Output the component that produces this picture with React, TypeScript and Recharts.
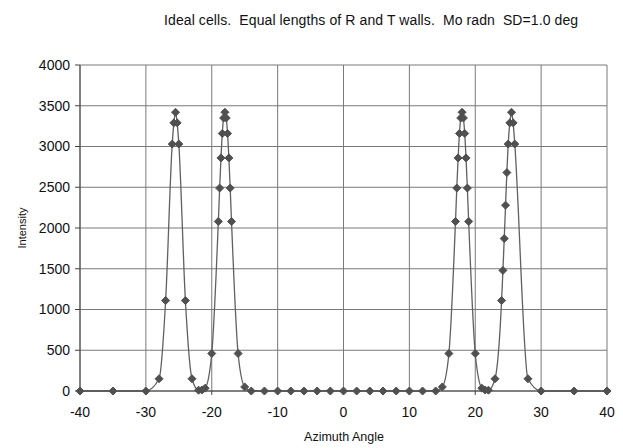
import { CartesianGrid, Line, LineChart, XAxis, YAxis } from 'recharts';

const angles = [
  -40, -35, -30, -28, -27, -26, -25.75, -25.5, -25.25, -25, -24, -23, -22, -21.5, -21,
  -20, -19, -18.8, -18.6, -18.4, -18.2, -18, -17.8, -17.6, -17.4, -17.2, -17, -16, -15,
  -14, -12, -10, -8, -6, -4, -2, 0, 2, 4, 6, 8, 10, 12, 14,
  15, 16, 17, 17.2, 17.4, 17.6, 17.8, 18, 18.2, 18.4, 18.6, 18.8, 19, 20, 21, 21.5, 22,
  23, 24, 24.2, 24.4, 24.6, 24.8, 25, 25.25, 25.5, 25.75, 26, 28, 30, 35, 40,
];

const intensity = [
  0, 0, 0, 150, 1110, 3030, 3290, 3420, 3290, 3030, 1110, 150, 10, 12, 35,
  460, 2080, 2490, 2860, 3160, 3350, 3420, 3350, 3160, 2860, 2490, 2080, 460, 50,
  0, 0, 0, 0, 0, 0, 0, 0, 0, 0, 0, 0, 0, 0, 0,
  50, 460, 2080, 2490, 2860, 3160, 3350, 3420, 3350, 3160, 2860, 2490, 2080, 460, 35, 12, 10,
  150, 1110, 1480, 1870, 2280, 2680, 3030, 3290, 3420, 3290, 3030, 150, 0, 0, 0,
];

const xTicks = [-40, -30, -20, -10, 0, 10, 20, 30, 40];
const yTicks = [0, 500, 1000, 1500, 2000, 2500, 3000, 3500, 4000];

const data = angles.map((a, i) => ({ angle: a, intensity: intensity[i] }));

const FONT = '"Liberation Sans", Arial, sans-serif';

const Diamond = (props: any) => {
  const { cx, cy, index } = props;
  if (cx == null || cy == null) return <g key={`d-${index}`} />;
  const r = 4;
  return (
    <polygon
      key={`d-${index}`}
      points={`${cx},${cy - r} ${cx + r},${cy} ${cx},${cy + r} ${cx - r},${cy}`}
      fill="#505050"
      stroke="#505050"
    />
  );
};

export default function App() {
  return (
    <div style={{ position: 'absolute', left: 0, top: 0, width: 623, height: 448, background: '#fff', fontFamily: FONT }}>
      <div style={{ position: 'absolute', left: 164, top: 12, fontSize: 14, letterSpacing: 0.1, color: '#111', whiteSpace: 'pre' }}>
        {'Ideal cells.  Equal lengths of R and T walls.  Mo radn  SD=1.0 deg'}
      </div>
      <div
        style={{
          position: 'absolute', left: 22, top: 228, fontSize: 11, color: '#111',
          transform: 'translate(-50%, -50%) rotate(-90deg)', whiteSpace: 'nowrap',
        }}
      >
        Intensity
      </div>
      <div style={{ position: 'absolute', left: 344, top: 437, fontSize: 12.5, color: '#111', transform: 'translate(-50%, -50%)', whiteSpace: 'nowrap' }}>
        Azimuth Angle
      </div>
      <LineChart width={623} height={448} data={data} margin={{ top: 65, right: 16, left: 0, bottom: 27 }}>
        <CartesianGrid stroke="#7a7a7a" strokeWidth={1} />
        <XAxis
          dataKey="angle"
          type="number"
          domain={[-40, 40]}
          ticks={xTicks}
          height={30}
          stroke="#444"
          tickSize={4}
          tickMargin={12}
          tick={{ fill: '#111', fontSize: 14, fontFamily: FONT }}
        />
        <YAxis
          type="number"
          domain={[0, 4000]}
          ticks={yTicks}
          width={80}
          stroke="#444"
          tickSize={5}
          tickMargin={5}
          tick={{ fill: '#111', fontSize: 14, fontFamily: FONT }}
        />
        <Line
          type="monotone"
          dataKey="intensity"
          stroke="#606060"
          strokeWidth={1.3}
          dot={Diamond}
          activeDot={false}
          isAnimationActive={false}
        />
      </LineChart>
    </div>
  );
}
